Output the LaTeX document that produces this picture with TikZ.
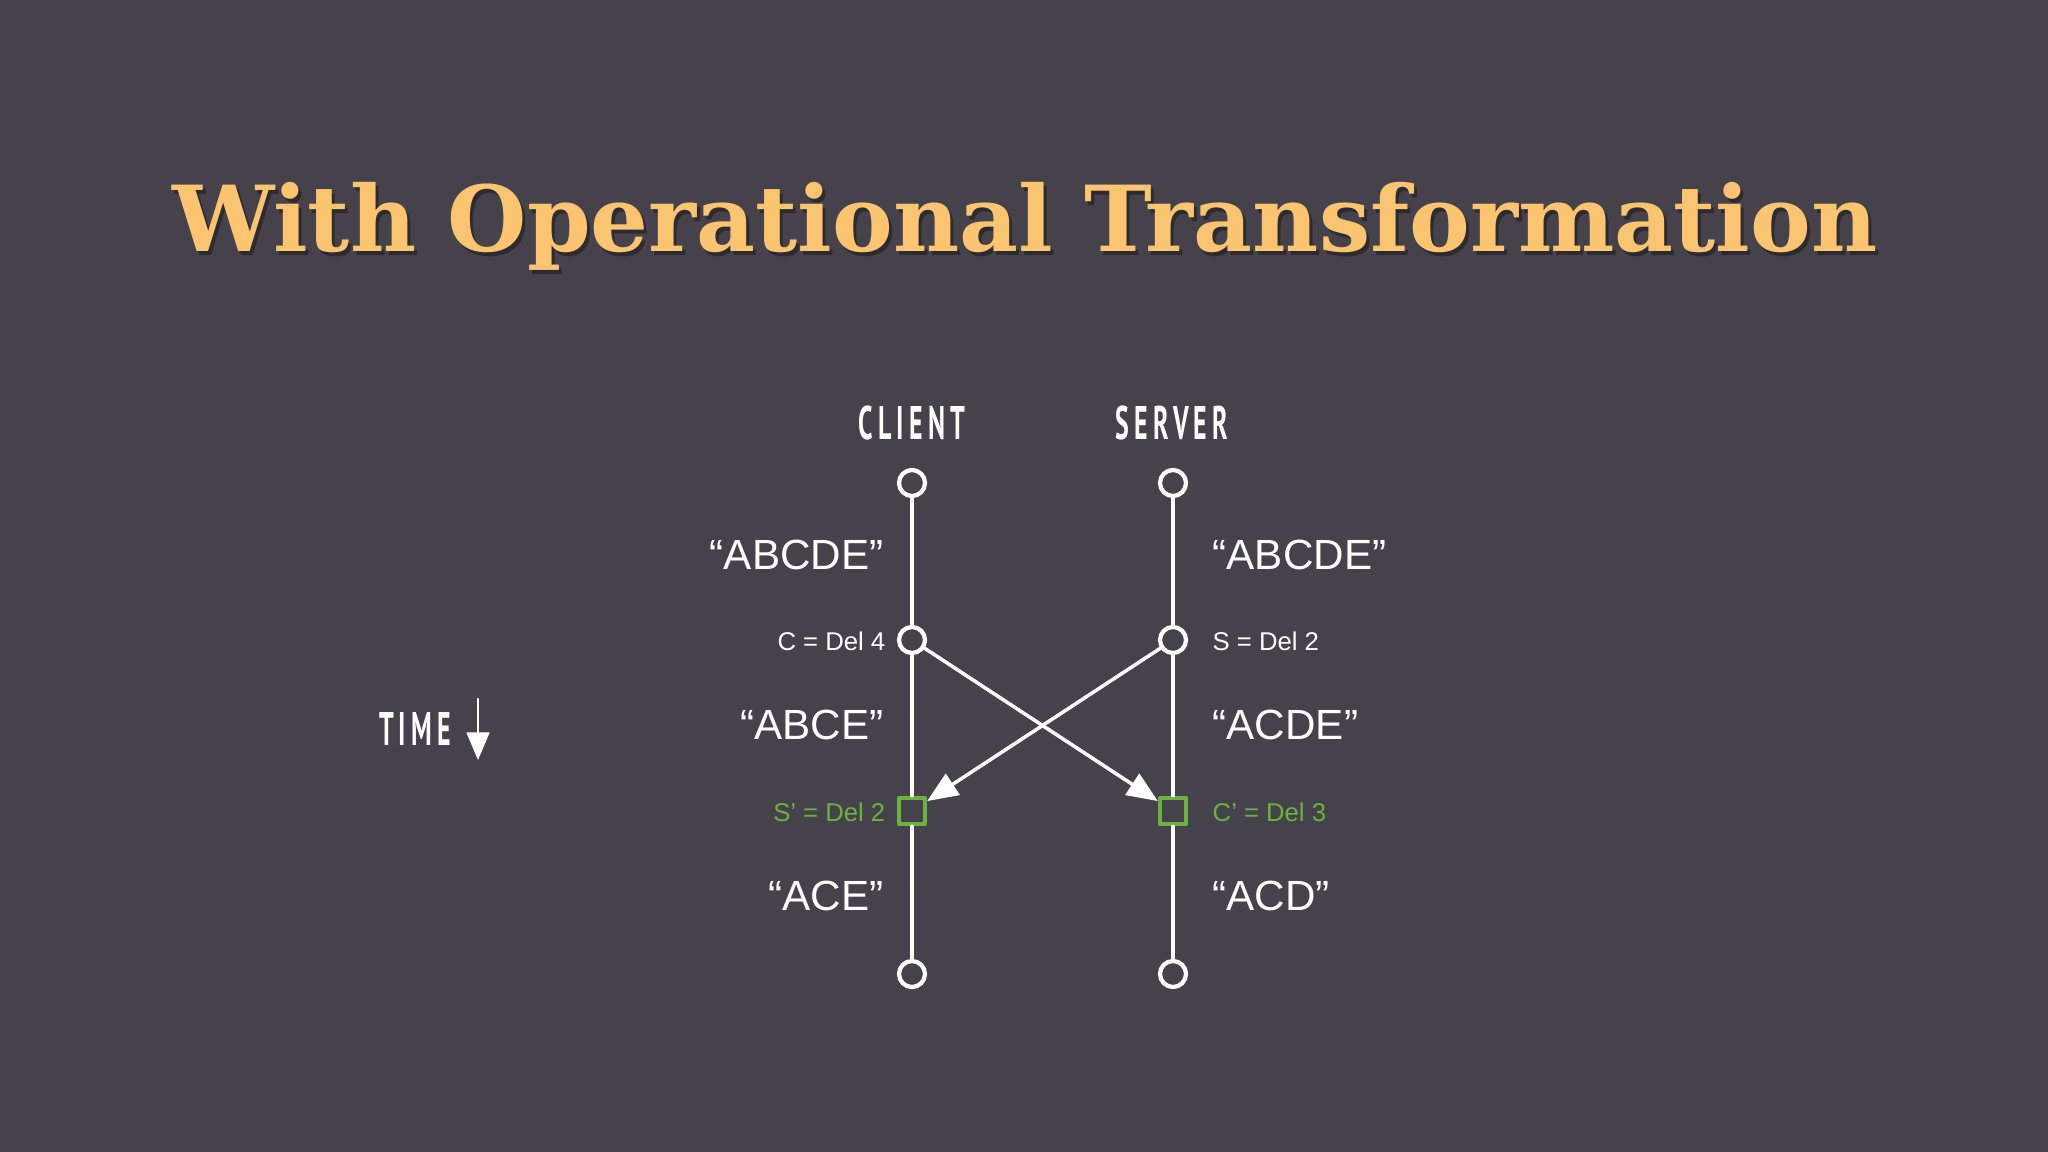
\documentclass[tikz,border=0pt]{standalone}
\usepackage{fontspec}
\usepackage{tikz}
\usetikzlibrary{arrows}
\setmainfont{Liberation Sans}
\newfontfamily\titlefont{DejaVu Serif}
\newfontfamily\headfont[FakeStretch=0.55,LetterSpace=11]{PT Sans}
\definecolor{bgdark}{RGB}{70,66,75}
\definecolor{titleor}{RGB}{250,196,112}
\definecolor{opgreen}{RGB}{108,178,62}
\tikzstyle{every node}=[font=\fontsize{12}{14}\selectfont,text=white]
\tikzstyle{dot}=[circle,draw=white,fill=bgdark,line width=1.2pt,minimum size=0.26cm,inner sep=0pt]
\tikzstyle{tbox}=[rectangle,draw=opgreen,line width=1.3pt,minimum size=0.26cm,inner sep=0pt]
\tikzstyle{state}=[inner sep=0pt]
\tikzstyle{oplabel}=[inner sep=0pt,font=\fontsize{7.3}{8}\selectfont]
\tikzstyle{head}=[font=\headfont\bfseries\fontsize{13.4}{15}\selectfont]

\begin{document}
\begin{tikzpicture}[line cap=round,line join=round,>=triangle 45,x=0.01cm,y=-0.01cm]
        \fill[bgdark] (0,0) rectangle (2048,1152);
        % title with its shadow
        \node[text=black,opacity=0.35,font=\titlefont\bfseries\fontsize{25.9}{28}\selectfont] (shadow) at (1028,230) {With Operational Transformation};
        \node[text=titleor,font=\titlefont\bfseries\fontsize{25.9}{28}\selectfont] (title) at (1025,226) {With Operational Transformation};
        \node[head] (client) at (912,423) {CLIENT};
        \node[head] (server) at (1172,423) {SERVER};
        \node[head] (time) at (415,729) {TIME};
        % timelines
        \node[dot] (c0) at (912,483) {};
        \node[dot] (c1) at (912,640) {};
        \node[tbox] (c2) at (912,811) {};
        \node[dot] (c3) at (912,974) {};
        \node[dot] (s0) at (1173,483) {};
        \node[dot] (s1) at (1173,640) {};
        \node[tbox] (s2) at (1173,811) {};
        \node[dot] (s3) at (1173,974) {};
        \draw[white,line width=1pt] (c0) -- (c1);
        \draw[white,line width=1pt] (c1) -- (c2);
        \draw[white,line width=1pt] (c2) -- (c3);
        \draw[white,line width=1pt] (s0) -- (s1);
        \draw[white,line width=1pt] (s1) -- (s2);
        \draw[white,line width=1pt] (s2) -- (s3);
        \draw[->,white,line width=1pt] (c1) -- (s2);
        \draw[->,white,line width=1pt] (s1) -- (c2);
        % time arrow
        \coordinate (t0) at (478,699);
        \coordinate (t1) at (478,760);
        \draw[-triangle 45,white,line width=0.8pt] (t0) -- (t1);
        % document states
        \node[state,anchor=east] (cstate0) at (884,555) {``ABCDE''};
        \node[state,anchor=east] (cstate1) at (884,725) {``ABCE''};
        \node[state,anchor=east] (cstate2) at (884,896) {``ACE''};
        \node[state,anchor=west] (sstate0) at (1212,555) {``ABCDE''};
        \node[state,anchor=west] (sstate1) at (1212,725) {``ACDE''};
        \node[state,anchor=west] (sstate2) at (1212,896) {``ACD''};
        % operations
        \node[oplabel,anchor=east] (cop) at (886,641) {C = Del 4};
        \node[oplabel,anchor=west] (sop) at (1212,641) {S = Del 2};
        \node[oplabel,anchor=east,text=opgreen] (cop2) at (886,812) {S’ = Del 2};
        \node[oplabel,anchor=west,text=opgreen] (sop2) at (1212,812) {C’ = Del 3};
\end{tikzpicture}
\end{document}
